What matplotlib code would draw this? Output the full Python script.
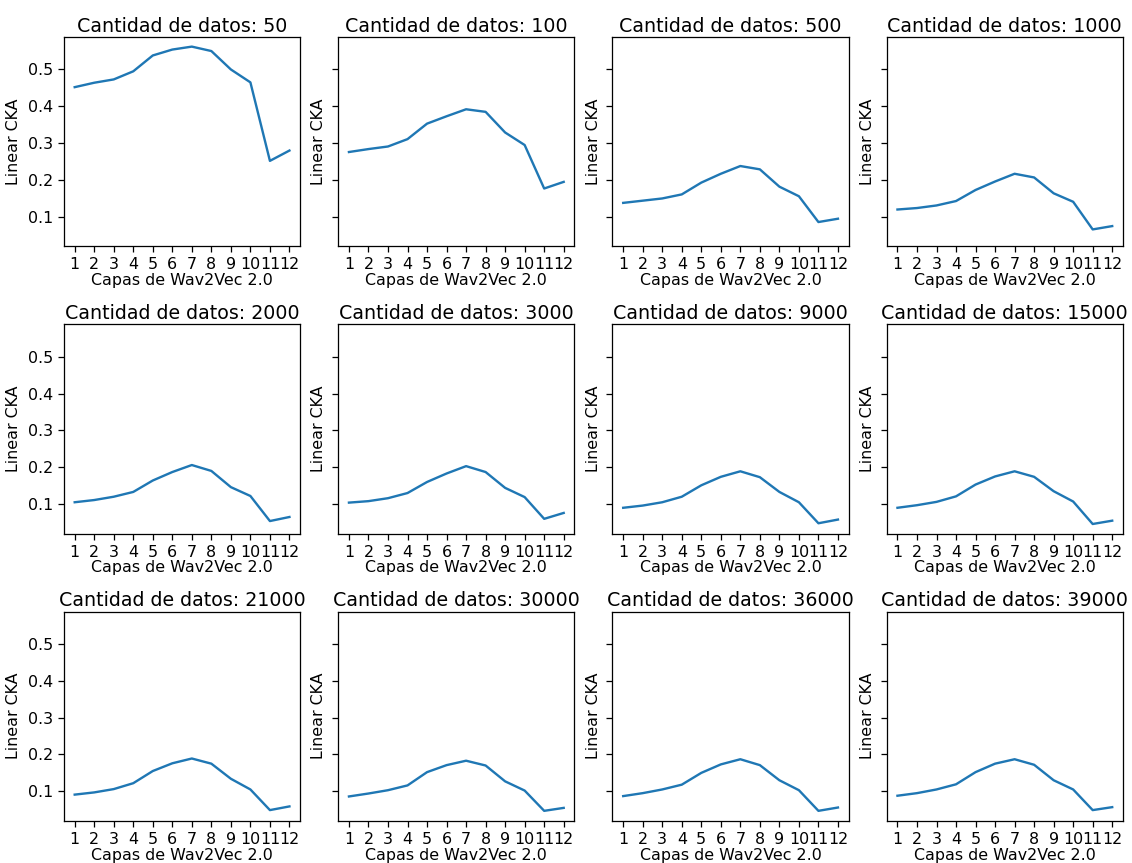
import matplotlib
matplotlib.use("Agg")
import matplotlib.pyplot as plt
from matplotlib.ticker import MultipleLocator

# layers of the model (x axis)
capas = [1, 2, 3, 4, 5, 6, 7, 8, 9, 10, 11, 12]

# number of samples used in each panel
cantidades = [50, 100, 500, 1000, 2000, 3000, 9000, 15000, 21000, 30000, 36000, 39000]

# linear CKA per layer, one list per panel
cka_50 = [0.452, 0.464, 0.473, 0.495, 0.538, 0.554, 0.562, 0.550, 0.500, 0.465, 0.252, 0.280]
cka_100 = [0.276, 0.284, 0.291, 0.311, 0.353, 0.373, 0.392, 0.385, 0.329, 0.295, 0.177, 0.195]
cka_500 = [0.138, 0.144, 0.150, 0.161, 0.193, 0.217, 0.238, 0.229, 0.182, 0.156, 0.086, 0.095]
cka_1000 = [0.120, 0.124, 0.131, 0.143, 0.173, 0.196, 0.217, 0.207, 0.164, 0.141, 0.066, 0.075]
cka_2000 = [0.105, 0.111, 0.120, 0.133, 0.164, 0.187, 0.206, 0.190, 0.146, 0.122, 0.054, 0.065]
cka_3000 = [0.104, 0.108, 0.116, 0.130, 0.160, 0.183, 0.203, 0.187, 0.144, 0.119, 0.060, 0.076]
cka_9000 = [0.090, 0.096, 0.105, 0.120, 0.151, 0.174, 0.189, 0.173, 0.133, 0.105, 0.048, 0.058]
cka_15000 = [0.090, 0.097, 0.106, 0.121, 0.153, 0.175, 0.189, 0.174, 0.135, 0.107, 0.046, 0.055]
cka_21000 = [0.091, 0.097, 0.106, 0.122, 0.155, 0.176, 0.189, 0.175, 0.134, 0.105, 0.049, 0.059]
cka_30000 = [0.086, 0.094, 0.103, 0.116, 0.152, 0.171, 0.183, 0.170, 0.127, 0.102, 0.047, 0.055]
cka_36000 = [0.087, 0.095, 0.105, 0.118, 0.150, 0.173, 0.187, 0.171, 0.130, 0.103, 0.047, 0.056]
cka_39000 = [0.088, 0.095, 0.105, 0.119, 0.152, 0.175, 0.187, 0.172, 0.130, 0.105, 0.049, 0.057]

series = [cka_50, cka_100, cka_500, cka_1000, cka_2000, cka_3000,
          cka_9000, cka_15000, cka_21000, cka_30000, cka_36000, cka_39000]

DPI = 114

fig, axes = plt.subplots(3, 4, figsize=(1132 / DPI, 863 / DPI), dpi=DPI, sharey=True)
fig.subplots_adjust(left=0.0565, right=0.992, top=0.957, bottom=0.049,
                    wspace=0.161, hspace=0.373)

for ax, n, valores in zip(axes.flat, cantidades, series):
    ax.plot(capas, valores)
    ax.set_title(f"Cantidad de datos: {n}", pad=3.5)
    ax.set_xlabel("Capas de Wav2Vec 2.0", labelpad=0.5)
    ax.set_ylabel("Linear CKA")
    ax.set_xticks(capas)
    ax.yaxis.set_major_locator(MultipleLocator(0.1))

fig.savefig("out.png", dpi=DPI)
